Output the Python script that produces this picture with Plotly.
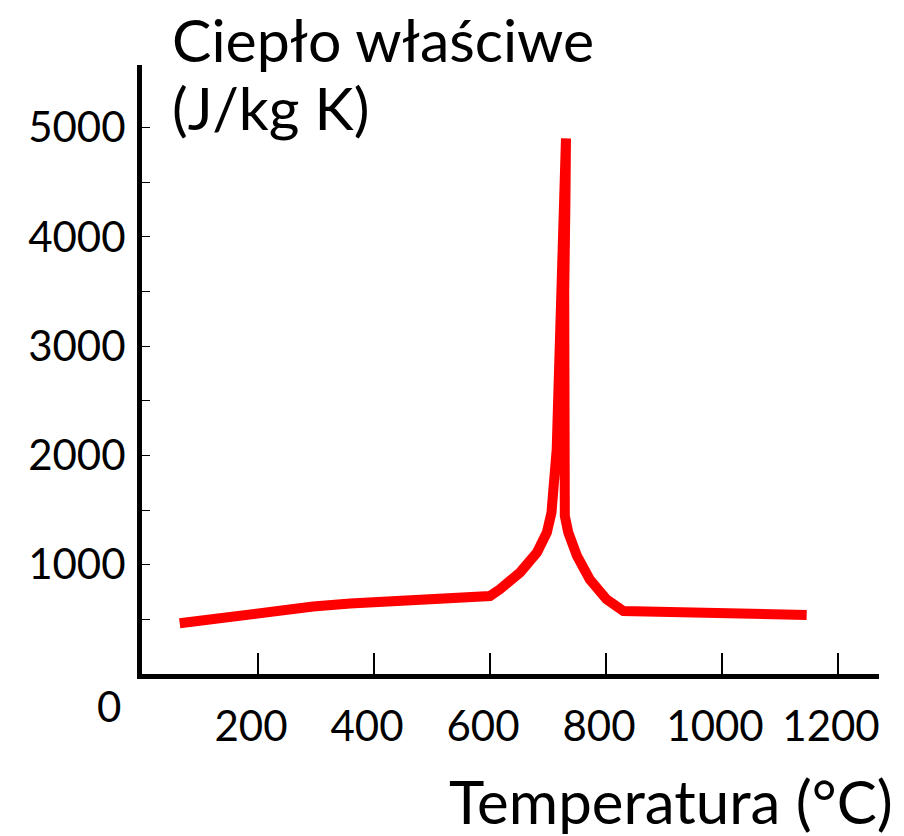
import plotly.graph_objects as go

# ---- data ----
temperature = [65, 180, 295, 359, 422, 497, 554, 600, 617, 652, 681, 698, 706, 712, 715,
               718, 722, 726, 730, 731,
               730, 728, 727, 726, 726, 729, 735, 750, 772, 801, 830, 870, 887, 1014, 1031, 1146]
specific_heat = [464, 546, 617, 644, 668, 683, 699, 714, 775, 930, 1111, 1294, 1477, 1751, 2056,
                 2600, 3300, 4000, 4600, 4900,
                 4300, 3500, 2700, 2050, 1751, 1446, 1294, 1080, 866, 683, 576, 571, 553, 553, 540, 540]

x_tick_vals = [200, 400, 600, 800, 1000, 1200]
x_tick_text = ["200", "400", "600", "800", "1000", "1200"]
y_tick_vals = [1000, 2000, 3000, 4000, 5000]
y_tick_text = ["1000", "2000", "3000", "4000", "5000"]
y_minor_vals = [500, 1500, 2500, 3500, 4500]

y_title_line1 = "Ciepło właściwe"
y_title_line2 = "(J/kg K)"
x_title = "Temperatura (°C)"
zero_label = "0"

# ---- layout geometry (pixels) ----
OFF = 8  # page body margin
W_FIG, H_FIG = 904 - OFF, 836 - OFF
L, T, PW, PH = 142 - OFF, 65 - OFF, 737, 609
FONT = "Lato, Carlito, 'Open Sans', sans-serif"


def px2x(px):
    return (px - OFF - L) / PW


def py2y(py):
    return (T + PH - (py - OFF)) / PH


fig = go.Figure()
fig.add_trace(go.Scatter(
    x=temperature, y=specific_heat, mode="lines",
    line=dict(color="#ff0000", width=10),
    hoverinfo="skip", showlegend=False,
))

fig.update_layout(
    width=W_FIG, height=H_FIG,
    margin=dict(l=L, r=W_FIG - L - PW, t=T, b=H_FIG - T - PH, pad=0),
    paper_bgcolor="white", plot_bgcolor="white",
    font=dict(family=FONT, color="black"),
    showlegend=False,
)

fig.update_xaxes(
    range=[0, 1270.7], showgrid=False, zeroline=False,
    showline=True, linewidth=5, linecolor="black",
    ticks="inside", ticklen=21, tickwidth=1.5, tickcolor="black",
    tickvals=x_tick_vals, ticktext=x_tick_text,
    tickfont=dict(family=FONT, size=42, color="black"),
    ticklabelstandoff=12, ticklabelshift=-7,
)
fig.update_yaxes(
    range=[0, 5572], showgrid=False, zeroline=False,
    showline=True, linewidth=5, linecolor="black",
    ticks="inside", ticklen=8, tickwidth=1.2, tickcolor="black",
    tickvals=y_tick_vals, ticktext=y_tick_text,
    tickfont=dict(family=FONT, size=42, color="black"),
    ticklabelstandoff=3,
    minor=dict(tickvals=y_minor_vals, ticks="inside", ticklen=8, tickwidth=1.2, tickcolor="black"),
)

ann_font_title = dict(family=FONT, size=59, color="black")
fig.add_annotation(text=y_title_line1, xref="paper", yref="paper",
                   x=px2x(170), y=py2y(39), xanchor="left", yanchor="middle",
                   showarrow=False, font=ann_font_title)
fig.add_annotation(text=y_title_line2, xref="paper", yref="paper",
                   x=px2x(170), y=py2y(107), xanchor="left", yanchor="middle",
                   showarrow=False, font=ann_font_title)
fig.add_annotation(text=x_title, xref="paper", yref="paper",
                   x=px2x(447), y=py2y(801), xanchor="left", yanchor="middle",
                   showarrow=False, font=dict(family=FONT, size=60, color="black"))
fig.add_annotation(text=zero_label, xref="paper", yref="paper",
                   x=px2x(123), y=py2y(706), xanchor="right", yanchor="middle",
                   showarrow=False, font=dict(family=FONT, size=42, color="black"))

fig.write_html("out.html")
